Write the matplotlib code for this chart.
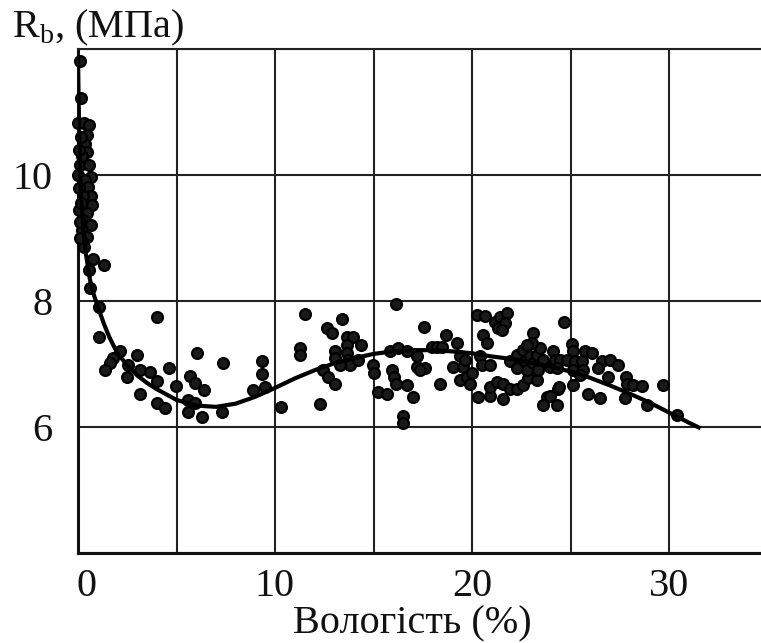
import matplotlib
matplotlib.use("Agg")
import matplotlib.pyplot as plt
import matplotlib.transforms as mtransforms

plt.rcParams["font.family"] = ["Liberation Serif", "DejaVu Serif"]
plt.rcParams["mathtext.fontset"] = "custom"
plt.rcParams["mathtext.rm"] = "Liberation Serif"

# measured points: moisture (%) and strength Rb (MPa)
moisture = [
    0.10, 0.14, 0.02, 0.30, 0.58, 0.44, 0.36, 0.44, 0.10, 0.58, 0.02, 0.64, 0.36, 0.52,
    0.64, 0.27, 0.70, 0.07, 0.47, 0.27, 0.64, 0.19, 0.44, 0.24, 0.30, 0.78, 1.34, 0.57,
    0.61, 0.15, 0.20, 0.05, 0.15, 0.10, 0.05, 0.12,
    1.05, 3.99, 1.08, 2.13, 1.79, 1.62, 3.00, 6.02, 7.34, 1.37, 2.55, 3.13, 3.67, 3.99,
    2.50, 4.64, 4.97, 5.69, 5.94, 6.40, 3.15, 4.03, 4.42, 5.60, 5.94, 5.60, 6.28, 7.29,
    8.87, 9.32, 9.32, 9.49, 10.30,
    11.52, 11.27, 11.27, 12.28, 12.62, 12.88, 13.39, 13.05, 13.05, 12.45, 12.71, 13.05,
    13.64, 13.98, 13.64, 13.64, 13.72, 13.81, 13.30, 14.35, 14.23, 14.99, 15.03, 16.14,
    15.25, 15.67, 15.92, 16.04, 16.14, 15.84, 16.26, 16.68, 16.72, 16.99, 16.48, 16.51,
    17.19, 17.19,
    17.56, 17.61, 17.36, 17.95, 18.20, 18.46, 18.68, 18.38, 19.22, 19.05, 19.39, 19.56,
    19.39, 19.73, 19.90, 19.98, 19.64,
    20.24, 20.66, 20.57, 20.75, 20.41, 20.49, 20.91, 20.32, 20.91, 21.59, 20.91, 21.25,
    21.59, 21.93, 22.27, 22.60, 22.86, 23.28, 21.17, 21.42, 21.76, 21.34, 21.68, 21.51,
    21.93, 22.27, 22.60, 22.27, 22.69, 22.94, 22.78, 23.11, 23.28, 23.45, 23.37, 23.62,
    23.11, 23.03, 22.78, 23.96, 24.13, 24.21, 23.79, 23.62, 24.30, 24.38,
    24.67, 25.06, 25.14, 25.74, 26.08, 24.47, 24.80, 25.23, 25.57, 24.30, 25.14, 25.65,
    25.48, 26.58, 27.01, 27.43, 26.41, 26.92, 27.82, 27.89, 28.19, 28.61, 29.68, 25.14,
    24.43, 23.96, 25.90, 26.50, 27.77, 28.87, 30.39,
]
strength = [
    11.81, 11.23, 10.82, 10.82, 10.79, 10.63, 10.50, 10.37, 10.16, 10.16, 10.00, 9.97,
    9.92, 9.81, 9.66, 9.66, 9.52, 9.44, 9.39, 9.29, 9.21, 9.13, 9.02, 8.92, 8.85, 8.66,
    8.57, 8.49, 8.20, 10.60, 10.30, 9.80, 9.55, 9.00, 10.40, 9.25,
    7.90, 7.75, 7.43, 7.20, 7.09, 7.01, 7.14, 7.18, 7.01, 6.90, 6.99, 6.90, 6.87, 6.73,
    6.79, 6.93, 6.65, 6.81, 6.70, 6.59, 6.53, 6.38, 6.30, 6.43, 6.38, 6.24, 6.16, 6.24,
    6.59, 7.04, 6.84, 6.63, 6.32,
    7.80, 7.25, 7.15, 6.37, 7.57, 7.49, 7.71, 7.20, 7.09, 6.90, 6.80, 6.68,
    7.43, 7.43, 7.30, 7.17, 7.06, 6.98, 6.98, 7.30, 7.06, 6.98, 6.85, 7.96,
    6.56, 6.53, 6.90, 6.80, 6.69, 7.20, 7.25, 7.20, 6.67, 6.48, 6.17, 6.06,
    6.96, 7.12,
    7.58, 6.93, 6.90, 7.27, 7.27, 7.27, 7.46, 6.68, 7.33, 6.96, 7.12, 6.96,
    6.75, 6.80, 6.69, 6.85, 7.06,
    7.78, 7.76, 7.46, 7.33, 7.12, 6.98, 6.98, 6.48, 6.49, 6.44, 6.64, 6.72,
    6.69, 6.61, 6.61, 6.67, 6.77, 6.75, 7.67, 7.75, 7.81, 7.57, 7.65, 7.54,
    7.04, 7.14, 7.22, 6.93, 7.04, 7.12, 6.90, 7.01, 7.14, 7.25, 6.90, 7.06,
    7.49, 7.33, 7.30, 6.96, 7.20, 7.06, 6.48, 6.35, 6.35, 6.61,
    7.66, 7.32, 7.20, 7.21, 7.18, 7.06, 7.06, 7.04, 7.04, 6.93, 6.90, 6.90,
    6.83, 7.04, 7.07, 6.98, 6.93, 6.80, 6.79, 6.69, 6.67, 6.65, 6.67, 6.67,
    6.63, 6.49, 6.53, 6.46, 6.46, 6.35, 6.19,
]

# trend curve
curve_x = [0.0, 0.03, 0.08, 0.15, 0.25, 0.4, 0.6, 0.8, 1.0, 1.3, 1.6, 2.0, 2.5, 3.0,
           3.5, 4.0, 5.0, 6.0, 7.0, 8.0, 9.0, 10.0, 11.0, 12.0, 13.0, 14.0, 15.0, 16.0,
           17.0, 18.0, 19.0, 20.0, 21.0, 22.0, 23.0, 24.0, 25.0, 26.0, 27.0, 28.0, 29.0,
           30.0, 31.0, 31.6]
curve_y = [11.9, 11.2, 10.4, 9.7, 9.2, 8.75, 8.35, 8.1, 7.92, 7.65, 7.42, 7.17, 6.98,
           6.82, 6.7, 6.6, 6.43, 6.34, 6.32, 6.37, 6.48, 6.62, 6.77, 6.9, 7.01, 7.09,
           7.16, 7.2, 7.22, 7.22, 7.2, 7.17, 7.12, 7.08, 7.02, 6.96, 6.88, 6.78, 6.66,
           6.53, 6.39, 6.23, 6.07, 5.98]

x_ticks = [0, 5, 10, 15, 20, 25, 30]
x_labels = ["0", "", "10", "", "20", "", "30"]
y_ticks = [4, 6, 8, 10, 12]
y_labels = ["", "6", "8", "10", ""]

W, H = 761, 643
fig = plt.figure(figsize=(W / 100, H / 100), dpi=100)
ax = fig.add_axes([78 / W, 1 - 553 / H, (W - 78) / W, (553 - 49) / H])

ax.set_xlim(0, (W - 78) / 19.7)
ax.set_ylim(4, 12)
ax.set_xticks(x_ticks)
ax.set_xticklabels(x_labels)
ax.set_yticks(y_ticks)
ax.set_yticklabels(y_labels)
ax.tick_params(length=0, labelsize=29, colors="#111")
ax.tick_params(axis="x", pad=11)
ax.tick_params(axis="y", pad=18)

ax.grid(True, color="#222", linewidth=1.5)
ax.set_axisbelow(True)
ax.spines["right"].set_visible(False)
ax.spines["top"].set_linewidth(1.5)
ax.spines["top"].set_color("#222")
for s in ["left", "bottom"]:
    ax.spines[s].set_linewidth(2.2)
    ax.spines[s].set_color("#111")

# shift the "0" label a bit to the right like the original
off = mtransforms.ScaledTranslation(8 / 100, 0, fig.dpi_scale_trans)
lab0 = ax.get_xticklabels()[0]
lab0.set_transform(lab0.get_transform() + off)

ax.plot(moisture, strength, "o", ms=7.8, mfc="#1a1a1a", mec="black", mew=1.6,
        clip_on=False, zorder=3)
ax.plot(curve_x, curve_y, color="black", lw=3.0, solid_capstyle="butt", zorder=4)

fig.text(12 / W, 1 - 37 / H, r"R$_{\mathrm{b}}$, (МПа)", fontsize=29, va="baseline",
         ha="left", color="#111")
fig.text(412 / W, 1 - 624 / H, "Вологість (%)", fontsize=29, va="center", ha="center",
         color="#111")

fig.savefig("out.png", dpi=100)
